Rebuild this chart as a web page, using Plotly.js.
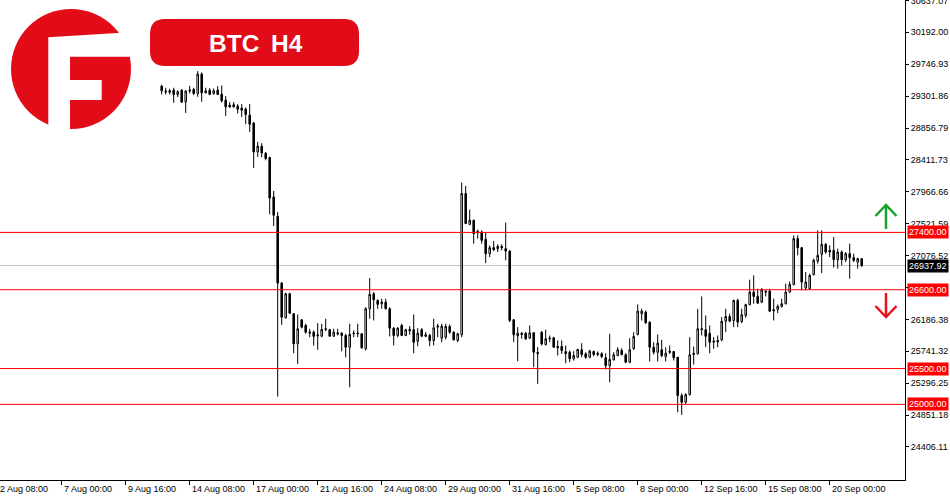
<!DOCTYPE html>
<html><head><meta charset="utf-8">
<script src="https://cdn.plot.ly/plotly-3.0.1.min.js"></script>
<style>html,body{margin:0;padding:0;background:#fff;}#chart{width:950px;height:500px;}</style>
</head><body><div id="chart"></div>
<script>
// ---- data (BTC H4, broker time, weekends excluded) ----
const firstBar = "11 Aug 04:00";
const priceOpen = [29441,29357,29376,29385,29325,29385,29222,29371,29395,29339,29609,29348,29385,29334,29385,29329,29246,29176,29180,29162,29134,29120,29036,28928,28523,28603,28505,28445,27894,27625,26693,26209,26544,26265,25846,26181,26101,25994,26008,25972,25952,26042,26042,25952,25999,25994,25962,25798,25985,25985,25985,25776,26335,26544,26451,26405,26427,26335,26064,25962,26101,25962,26027,26042,25882,26042,25972,25962,25892,26078,25924,25938,26087,26008,25892,25972,27942,27513,27569,27415,27405,27303,27103,27187,27173,27205,27173,27140,26181,25958,25994,25994,25924,25999,25706,26008,25836,25916,25930,25808,25808,25706,25728,25636,25658,25762,25706,25658,25738,25696,25706,25650,25542,25622,25682,25752,25692,25589,25776,25976,26265,26287,26148,25798,25728,25762,25668,25742,25738,25658,25123,25030,25137,25696,25706,26042,26042,25990,25868,25892,25901,26161,26227,26171,26451,26157,26241,26391,26567,26507,26427,26581,26581,26321,26325,26367,26405,26567,26674,27313,27187,26623,26614,26810,27000,27094,27233,27150,27150,27020,27126,27020,27103,27048,26986,27034];
const priceHigh = [29459,29418,29404,29418,29385,29399,29385,29445,29418,29651,29633,29418,29413,29409,29441,29451,29301,29218,29218,29190,29190,29144,29190,28938,28663,28645,28523,28456,27978,27685,26707,26558,26558,26273,26255,26185,26125,26055,26032,26134,26125,26195,26053,26055,26055,26008,25985,26125,26032,26125,25994,26357,26762,26567,26465,26475,26475,26357,26078,26078,26125,26055,26092,26255,26064,26064,26008,25985,26195,26125,26125,26125,26115,26022,25999,28096,28048,27718,27578,27439,27429,27405,27219,27279,27233,27233,27537,27150,26185,26078,26008,26008,26101,26004,25798,26022,26042,25962,25943,25892,25892,25822,25752,25742,25776,25854,25728,25762,25752,25738,25728,25714,25985,25728,25798,25784,25714,25924,26008,26395,26335,26311,26157,25868,25976,25900,25798,25822,25742,25660,25155,25155,25938,25808,26335,26507,26241,26101,25938,25962,26217,26335,26265,26461,26475,26335,26405,26740,26800,26614,26623,26595,26614,26475,26395,26475,26684,26716,27359,27359,27196,26846,26824,27034,27429,27429,27252,27219,27335,27173,27150,27126,27243,27103,27048,27042];
const priceLow = [29325,29325,29325,29208,29288,29208,29068,29339,29315,29292,29222,29339,29315,29325,29320,29213,29026,29138,29144,29060,29012,28910,28803,28300,28453,28449,28407,27653,27489,25109,26111,26199,26262,25714,25566,26060,25985,25938,25822,25762,25938,26022,25941,25938,25962,25742,25658,25239,25938,25938,25776,25752,26195,26171,26335,26335,26325,25948,25822,25938,25952,25952,25972,25714,25812,25938,25938,25812,25822,25938,25868,25906,25985,25892,25868,25938,27517,27499,27243,27313,27243,26972,27056,27140,27126,27150,27010,26148,25868,25603,25916,25901,25916,25519,25287,25822,25822,25868,25790,25682,25706,25575,25589,25612,25645,25658,25636,25645,25672,25672,25645,25487,25309,25612,25672,25682,25575,25575,25762,25962,26171,26125,25598,25696,25598,25658,25598,25706,25612,24890,24854,25007,25123,25556,25696,25962,25798,25714,25776,25798,25882,26008,26148,26078,26078,26134,26209,26385,26405,26405,26413,26507,26287,26171,26273,26349,26395,26560,26660,27080,26591,26591,26600,26800,26964,26832,27103,27056,26908,26894,26940,26986,26754,26986,26894,26916];
const priceClose = [29376,29371,29357,29325,29362,29218,29371,29385,29339,29609,29348,29376,29325,29376,29325,29236,29152,29152,29152,29120,29106,29046,28910,28523,28603,28509,28431,27880,27639,26693,26217,26544,26273,25846,26055,26078,26008,26008,25948,25958,26046,26055,25952,26008,25985,25962,25798,25976,25994,25994,25790,26335,26535,26461,26395,26427,26335,26064,25962,26064,25962,26042,26046,25868,25994,25952,25952,25892,26069,26092,26092,26087,26008,25901,25985,27942,27523,27569,27383,27397,27289,27103,27187,27159,27205,27187,27140,26171,25972,25994,25976,25916,25999,25728,25724,25846,25916,25924,25798,25790,25752,25738,25636,25682,25766,25696,25658,25742,25696,25714,25668,25542,25626,25692,25762,25696,25589,25762,25948,26301,26301,26139,25798,25728,25854,25682,25714,25728,25650,25123,25030,25137,25692,25714,26055,26055,25950,25868,25882,25874,26157,26227,26161,26451,26148,26251,26391,26567,26507,26413,26600,26567,26301,26307,26367,26405,26567,26674,27313,27187,26707,26707,26800,27010,27080,27233,27126,27126,27020,27126,27020,27103,27048,27010,27034,26937.92];
const xTickLabels = ["2 Aug 08:00","7 Aug 00:00","9 Aug 16:00","14 Aug 08:00","17 Aug 00:00","21 Aug 16:00","24 Aug 08:00","29 Aug 00:00","31 Aug 16:00","5 Sep 08:00","8 Sep 00:00","12 Sep 16:00","15 Sep 08:00","20 Sep 00:00"];
const yTickLabels = ["30637.07","30192.00","29746.93","29301.86","28856.79","28411.73","27966.66","27521.59","27076.52","26631.45","26186.38","25741.32","25296.25","24851.18","24406.11"];
const levels = [27400, 26600, 25500, 25000];
const levelLabels = ["27400.00","26600.00","25500.00","25000.00"];
const lastPrice = 26937.92;
const lastPriceLabel = "26937.92";
const titleText = "BTC\u00a0\u2009H4";

// ---- H4 time categories, weekends skipped ----
function buildTimes() {
  const months = ["Jan","Feb","Mar","Apr","May","Jun","Jul","Aug","Sep","Oct","Nov","Dec"];
  const out = [];
  let t = Date.UTC(2023, 6, 31, 0);
  while (out.length < 280) {
    const d = new Date(t);
    const wd = d.getUTCDay();
    if (wd !== 0 && wd !== 6) {
      out.push(d.getUTCDate() + " " + months[d.getUTCMonth()] + " " + String(d.getUTCHours()).padStart(2, "0") + ":00");
    }
    t += 4 * 3600e3;
  }
  return out;
}
const times = buildTimes();
const start = times.indexOf(firstBar);
const barTimes = times.slice(start, start + priceOpen.length);

// ---- layout helpers (pixel -> paper) ----
const W = 905, H = 480;
const px = (x) => x / W;
const py = (y) => 1 - y / H;
const pt = (x, y) => px(x) + "," + py(y);
const path = (pts) => "M" + pts.map(p => pt(p[0], p[1])).join("L");

const RED = "#ff0000";
const LOGO = "#e20c19";
const FONT = "Liberation Sans, Arial, sans-serif";

const shapes = [];
levels.forEach(v => shapes.push({type:"line", xref:"paper", yref:"y", x0:0, x1:1, y0:v, y1:v, line:{color:RED, width:1}}));
shapes.push({type:"line", xref:"paper", yref:"y", x0:0, x1:1, y0:lastPrice, y1:lastPrice, line:{color:"#c0c0c0", width:1}, layer:"below"});
// logo
shapes.push({type:"circle", xref:"paper", yref:"paper", x0:px(11), x1:px(131), y0:py(129), y1:py(9), fillcolor:LOGO, line:{width:0}});
shapes.push({type:"path", xref:"paper", yref:"paper", path: path([[48.3,37.3],[142,31.5],[142,56.7],[70,56.7],[70,80],[101.7,80],[101.7,100],[70,100],[70,136],[48.3,136]]) + "Z", fillcolor:"#ffffff", line:{width:0}});
// title pill
const r = 15;
shapes.push({type:"path", xref:"paper", yref:"paper",
  path: "M" + pt(150 + r, 19) + "L" + pt(359 - r, 19) + "Q" + pt(359, 19) + " " + pt(359, 19 + r) + "L" + pt(359, 66 - r) + "Q" + pt(359, 66) + " " + pt(359 - r, 66) +
        "L" + pt(150 + r, 66) + "Q" + pt(150, 66) + " " + pt(150, 66 - r) + "L" + pt(150, 19 + r) + "Q" + pt(150, 19) + " " + pt(150 + r, 19) + "Z",
  fillcolor:LOGO, line:{width:0}});
// arrows
shapes.push({type:"path", xref:"paper", yref:"paper", path: path([[886,229],[886,205]]), line:{color:"#17a02a", width:2.5}});
shapes.push({type:"path", xref:"paper", yref:"paper", path: path([[875.5,216],[886,205],[896.5,216]]), line:{color:"#17a02a", width:2.5}});
shapes.push({type:"path", xref:"paper", yref:"paper", path: path([[886,293],[886,316]]), line:{color:"#e8101c", width:2.5}});
shapes.push({type:"path", xref:"paper", yref:"paper", path: path([[875.5,306],[886,317],[896.5,306]]), line:{color:"#e8101c", width:2.5}});

const annotations = [];
xTickLabels.forEach(lbl => {
  const idx = times.indexOf(lbl);
  const a = {text:lbl, showarrow:false, yref:"paper", y:0, yanchor:"top", yshift:-2, xanchor:"left",
             font:{family:FONT, size:9, color:"#000"}};
  if (idx >= 0 && idx > 14.6) { a.xref = "x"; a.x = idx; } else { a.xref = "paper"; a.x = px(-2.3); }
  annotations.push(a);
});
levels.forEach((v, i) => annotations.push({text:levelLabels[i], xref:"paper", x:1, xanchor:"left", xshift:2, yref:"y", y:v, yanchor:"middle",
  showarrow:false, bgcolor:RED, borderpad:1, font:{family:FONT, size:9, color:"#fff"}}));
annotations.push({text:lastPriceLabel, xref:"paper", x:1, xanchor:"left", xshift:2, yref:"y", y:lastPrice, yanchor:"middle",
  showarrow:false, bgcolor:"#000", borderpad:1, font:{family:FONT, size:9, color:"#fff"}});
annotations.push({text:"<b>" + titleText + "</b>", xref:"paper", yref:"paper", x:px(256), y:py(43), xanchor:"center", yanchor:"middle",
  showarrow:false, font:{family:FONT, size:24.5, color:"#fff"}});

const trace = {
  type:"candlestick", x:barTimes, open:priceOpen, high:priceHigh, low:priceLow, close:priceClose,
  increasing:{line:{color:"#000", width:1}, fillcolor:"#ffffff"},
  decreasing:{line:{color:"#000", width:1}, fillcolor:"#000000"},
  whiskerwidth:0, hoverinfo:"skip"
};

const layout = {
  width:950, height:500, margin:{l:0, r:45, t:0, b:20, pad:0},
  paper_bgcolor:"#fff", plot_bgcolor:"#fff", showlegend:false, boxgap:0.45,
  xaxis:{type:"category", categoryorder:"array", categoryarray:times, range:[14.575, 240.825], autorange:false,
    rangeslider:{visible:false}, showgrid:false, zeroline:false, showline:true, linecolor:"#000", linewidth:1,
    ticks:"outside", ticklen:4, tickcolor:"#000", tickwidth:1, tickmode:"array",
    tickvals: xTickLabels.map(l => times.indexOf(l)), showticklabels:false, fixedrange:true},
  yaxis:{side:"right", range:[23945, 30643], autorange:false, showgrid:false, zeroline:false, showline:true,
    linecolor:"#000", linewidth:1, ticks:"outside", ticklen:3, tickcolor:"#000", tickwidth:1,
    tickmode:"array", tickvals: yTickLabels.map(Number), ticktext: yTickLabels, ticklabeloverflow:"allow",
    tickfont:{family:FONT, size:9, color:"#000"}, fixedrange:true},
  shapes, annotations
};
Plotly.newPlot("chart", [trace], layout, {staticPlot:true, displayModeBar:false});
</script></body></html>
